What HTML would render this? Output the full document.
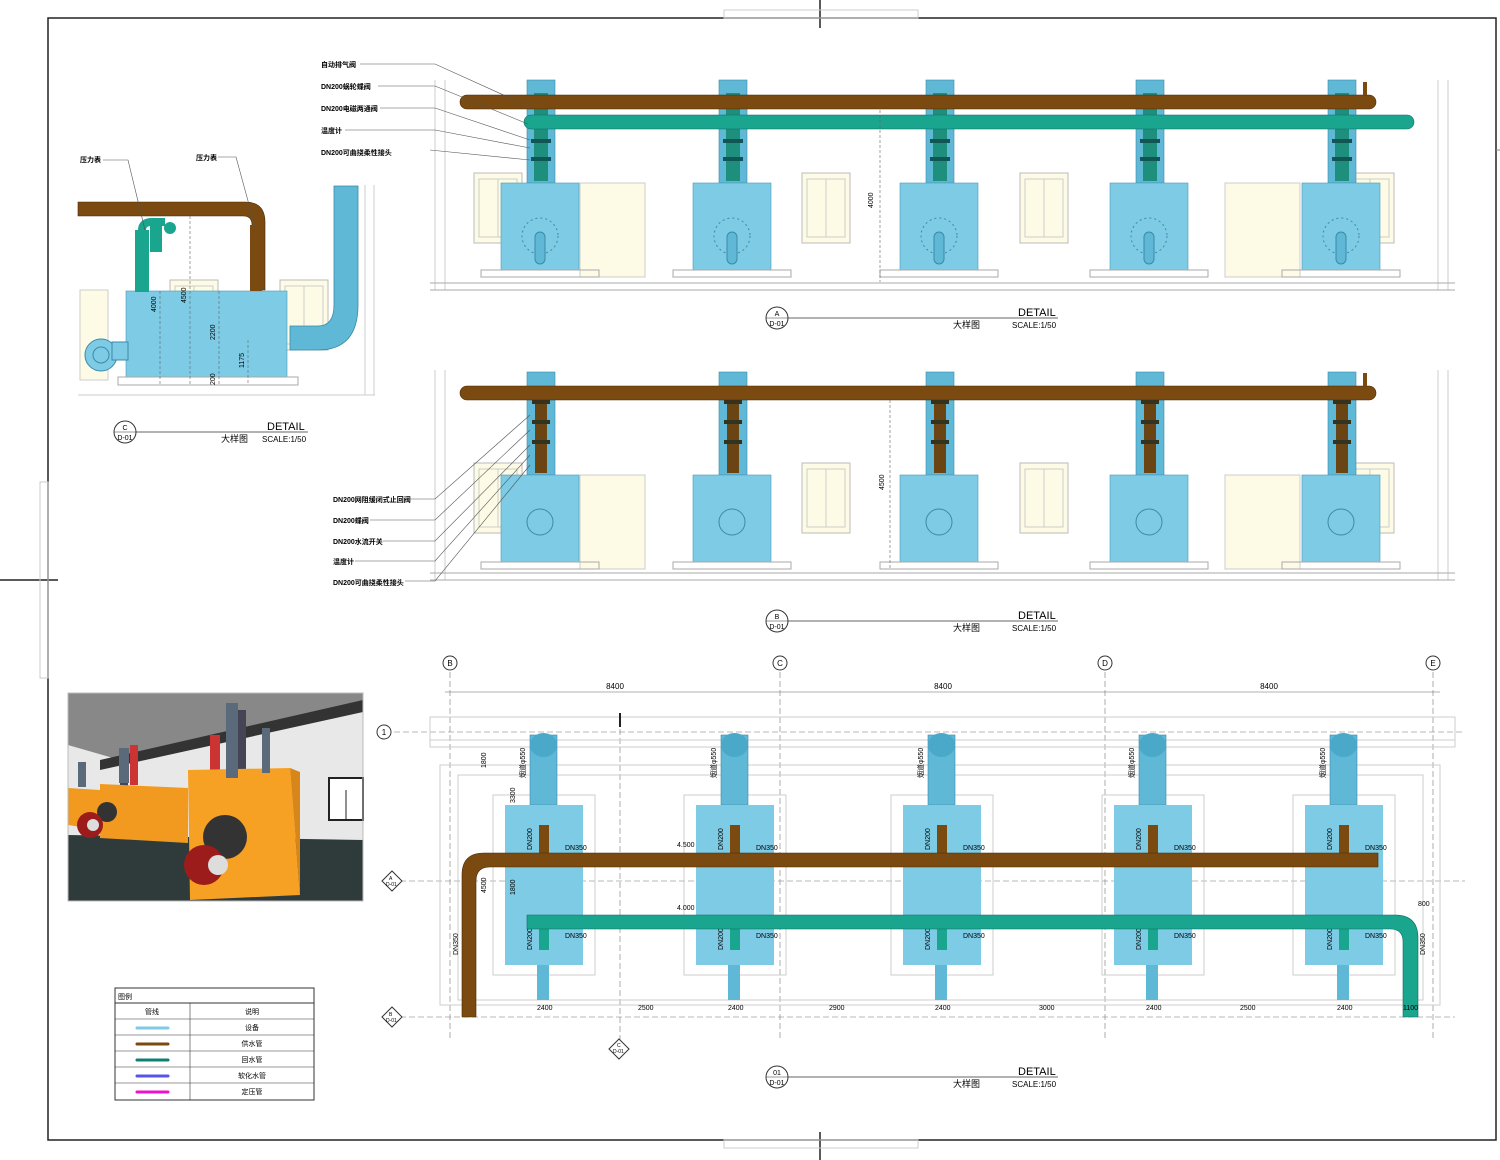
<!DOCTYPE html>
<html><head><meta charset="utf-8"><style>
html,body{margin:0;padding:0;background:#fff;}
svg{display:block;font-family:"Liberation Sans","Noto Sans CJK SC",sans-serif;}
</style></head><body>
<svg width="1500" height="1160" viewBox="0 0 1500 1160" xmlns="http://www.w3.org/2000/svg">
<defs>
<g id="win"><rect x="0" y="0" width="48" height="70" fill="#fdfbe6" stroke="#bbb"/><rect x="5" y="6" width="38" height="58" fill="none" stroke="#ccc"/><line x1="24" y1="6" x2="24" y2="64" stroke="#ccc"/></g>
<g id="bA">
<rect x="26" y="-103" width="28" height="103" fill="#5fb8d6" stroke="#3a8aa8" stroke-width="0.6"/>
<rect x="33" y="-90" width="14" height="88" fill="#1e8f7c"/>
<rect x="30" y="-80" width="20" height="4" fill="#155"/><rect x="30" y="-62" width="20" height="4" fill="#155"/><rect x="30" y="-44" width="20" height="4" fill="#155"/><rect x="30" y="-26" width="20" height="4" fill="#155"/>
<rect x="0" y="0" width="78" height="87" fill="#7ecbe6" stroke="#4a9ab8" stroke-width="0.6"/>
<rect x="-20" y="87" width="118" height="7" fill="none" stroke="#aaa"/>
</g>
<g id="bB">
<rect x="26" y="-103" width="28" height="103" fill="#5fb8d6" stroke="#3a8aa8" stroke-width="0.6"/>
<rect x="34" y="-88" width="12" height="86" fill="#6b4413"/>
<rect x="31" y="-75" width="18" height="4" fill="#332"/><rect x="31" y="-55" width="18" height="4" fill="#332"/><rect x="31" y="-35" width="18" height="4" fill="#332"/>
<rect x="0" y="0" width="78" height="87" fill="#7ecbe6" stroke="#4a9ab8" stroke-width="0.6"/>
<circle cx="39" cy="47" r="13" fill="none" stroke="#3a8aa8"/>
<rect x="-20" y="87" width="118" height="7" fill="none" stroke="#aaa"/>
</g>
<g id="bP">
<rect x="-12" y="-10" width="102" height="180" fill="none" stroke="#ccc"/>
<rect x="25" y="-70" width="27" height="70" fill="#5fb8d6" stroke="#3a8aa8" stroke-width="0.6"/>
<ellipse cx="38.5" cy="-60" rx="13.5" ry="12" fill="#4aa8c8"/>
<rect x="0" y="0" width="78" height="160" fill="#7ecbe6"/>
<rect x="34" y="20" width="10" height="30" fill="#7a4a10"/>
<rect x="34" y="120" width="10" height="25" fill="#1aa58f"/>
<rect x="32" y="160" width="12" height="35" fill="#5fb8d6"/>
<text x="27" y="45" font-size="7" transform="rotate(-90 27 45)">DN200</text>
<text x="27" y="145" font-size="7" transform="rotate(-90 27 145)">DN200</text>
<text x="60" y="45" font-size="7">DN350</text>
<text x="60" y="133" font-size="7">DN350</text>
</g>
</defs>

<!-- frame -->
<rect x="48" y="18" width="1448" height="1122" fill="none" stroke="#222" stroke-width="1.5"/>
<line x1="820" y1="0" x2="820" y2="28" stroke="#222" stroke-width="1.5"/>
<line x1="820" y1="1132" x2="820" y2="1160" stroke="#222" stroke-width="1.5"/>
<line x1="0" y1="580" x2="58" y2="580" stroke="#222" stroke-width="1.5"/>
<rect x="724" y="10" width="194" height="8" fill="none" stroke="#ccc"/>
<rect x="724" y="1140" width="194" height="8" fill="none" stroke="#ccc"/>
<rect x="40" y="482" width="8" height="196" fill="none" stroke="#ccc"/>
<line x1="1496" y1="150" x2="1500" y2="150" stroke="#888"/>

<!-- Elevation A -->
<g stroke="#ccc" fill="none"><line x1="435" y1="80" x2="435" y2="290"/><line x1="445" y1="80" x2="445" y2="290"/><line x1="1438" y1="80" x2="1438" y2="290"/><line x1="1448" y1="80" x2="1448" y2="290"/></g>
<use href="#win" x="474" y="173"/><use href="#win" x="802" y="173"/><use href="#win" x="1020" y="173"/><use href="#win" x="1346" y="173"/>
<rect x="580" y="183" width="65" height="94" fill="#fdfbe6" stroke="#ccc"/><rect x="1225" y="183" width="75" height="94" fill="#fdfbe6" stroke="#ccc"/>
<use href="#bA" x="501" y="183"/><use href="#bA" x="693" y="183"/><use href="#bA" x="900" y="183"/><use href="#bA" x="1110" y="183"/><use href="#bA" x="1302" y="183"/>
<g fill="none" stroke="#3a8aa8"><circle cx="540" cy="236" r="18" stroke-dasharray="2 3"/><circle cx="732" cy="236" r="18" stroke-dasharray="2 3"/><circle cx="939" cy="236" r="18" stroke-dasharray="2 3"/><circle cx="1149" cy="236" r="18" stroke-dasharray="2 3"/><circle cx="1341" cy="236" r="18" stroke-dasharray="2 3"/></g>
<g fill="#5fb8d6" stroke="#3a8aa8"><rect x="535" y="232" width="10" height="32" rx="5"/><rect x="727" y="232" width="10" height="32" rx="5"/><rect x="934" y="232" width="10" height="32" rx="5"/><rect x="1144" y="232" width="10" height="32" rx="5"/><rect x="1336" y="232" width="10" height="32" rx="5"/></g>
<line x1="430" y1="283" x2="1455" y2="283" stroke="#aaa"/><line x1="430" y1="290" x2="1455" y2="290" stroke="#aaa"/>
<rect x="460" y="95" width="916" height="14" rx="7" fill="#7a4a10" stroke="#4a2a05" stroke-width="0.6"/>
<rect x="524" y="115" width="890" height="14" rx="7" fill="#1aa58f" stroke="#0f6f60" stroke-width="0.6"/>
<line x1="880" y1="110" x2="880" y2="282" stroke="#666" stroke-dasharray="3 2" stroke-width="0.6"/>
<text x="873" y="208" font-size="7" transform="rotate(-90 873 208)">4000</text>
<rect x="1363" y="82" width="4" height="13" fill="#7a4a10"/>
<g font-size="7" font-weight="bold"><text x="321" y="67">自动排气阀</text><text x="321" y="89">DN200蜗轮蝶阀</text><text x="321" y="111">DN200电磁两通阀</text><text x="321" y="133">温度计</text><text x="321" y="155">DN200可曲挠柔性接头</text></g>
<g stroke="#555" stroke-width="0.6" fill="none"><polyline points="360,64 435,64 530,107"/><polyline points="378,86 435,86 528,124"/><polyline points="380,108 435,108 530,140"/><polyline points="345,130 435,130 530,148"/><polyline points="430,150 530,160"/></g>
<circle cx="777" cy="318" r="11" fill="#fff" stroke="#333"/><line x1="766" y1="318" x2="788" y2="318" stroke="#333" stroke-width="0.6"/>
<text x="777" y="316" font-size="7" text-anchor="middle">A</text><text x="777" y="326" font-size="7" text-anchor="middle">D-01</text>
<line x1="788" y1="318" x2="1058" y2="318" stroke="#333" stroke-width="0.8"/>
<text x="1018" y="316" font-size="11">DETAIL</text><text x="953" y="328" font-size="9">大样图</text><text x="1012" y="328" font-size="8">SCALE:1/50</text>

<!-- Elevation B -->
<g stroke="#ccc" fill="none"><line x1="435" y1="370" x2="435" y2="580"/><line x1="445" y1="370" x2="445" y2="580"/><line x1="1438" y1="370" x2="1438" y2="580"/><line x1="1448" y1="370" x2="1448" y2="580"/></g>
<use href="#win" x="474" y="463"/><use href="#win" x="802" y="463"/><use href="#win" x="1020" y="463"/><use href="#win" x="1346" y="463"/>
<rect x="580" y="475" width="65" height="94" fill="#fdfbe6" stroke="#ccc"/><rect x="1225" y="475" width="75" height="94" fill="#fdfbe6" stroke="#ccc"/>
<use href="#bB" x="501" y="475"/><use href="#bB" x="693" y="475"/><use href="#bB" x="900" y="475"/><use href="#bB" x="1110" y="475"/><use href="#bB" x="1302" y="475"/>
<line x1="430" y1="573" x2="1455" y2="573" stroke="#aaa"/><line x1="430" y1="580" x2="1455" y2="580" stroke="#aaa"/>
<rect x="460" y="386" width="916" height="14" rx="7" fill="#7a4a10" stroke="#4a2a05" stroke-width="0.6"/>
<rect x="1363" y="373" width="4" height="13" fill="#7a4a10"/>
<line x1="890" y1="400" x2="890" y2="570" stroke="#666" stroke-dasharray="3 2" stroke-width="0.6"/>
<text x="884" y="490" font-size="7" transform="rotate(-90 884 490)">4500</text>
<g font-size="7" font-weight="bold"><text x="333" y="502">DN200网阻缓闭式止回阀</text><text x="333" y="523">DN200蝶阀</text><text x="333" y="544">DN200水流开关</text><text x="333" y="564">温度计</text><text x="333" y="585">DN200可曲挠柔性接头</text></g>
<g stroke="#555" stroke-width="0.6" fill="none"><polyline points="410,499 435,499 530,415"/><polyline points="370,520 435,520 530,430"/><polyline points="383,541 435,541 530,445"/><polyline points="355,561 435,561 530,455"/><polyline points="405,581 435,581 530,465"/></g>
<circle cx="777" cy="621" r="11" fill="#fff" stroke="#333"/><line x1="766" y1="621" x2="788" y2="621" stroke="#333" stroke-width="0.6"/>
<text x="777" y="619" font-size="7" text-anchor="middle">B</text><text x="777" y="629" font-size="7" text-anchor="middle">D-01</text>
<line x1="788" y1="621" x2="1058" y2="621" stroke="#333" stroke-width="0.8"/>
<text x="1018" y="619" font-size="11">DETAIL</text><text x="953" y="631" font-size="9">大样图</text><text x="1012" y="631" font-size="8">SCALE:1/50</text>

<!-- Elevation C -->
<g stroke="#ccc" fill="none"><line x1="78" y1="395" x2="375" y2="395"/><line x1="365" y1="185" x2="365" y2="395"/><line x1="374" y1="185" x2="374" y2="395"/></g>
<use href="#win" x="170" y="280"/><use href="#win" x="280" y="280"/>
<rect x="80" y="290" width="28" height="90" fill="#fdfbe6" stroke="#ccc"/>
<rect x="126" y="291" width="161" height="86" fill="#7ecbe6" stroke="#4a9ab8" stroke-width="0.6"/>
<rect x="118" y="377" width="180" height="8" fill="none" stroke="#aaa"/>
<circle cx="101" cy="355" r="16" fill="#7ecbe6" stroke="#3a8aa8"/><circle cx="101" cy="355" r="8" fill="none" stroke="#3a8aa8"/>
<rect x="112" y="342" width="16" height="18" fill="#7ecbe6" stroke="#3a8aa8"/>
<path d="M334 186 H358 V305 Q358 350 318 350 H290 V326 H318 Q334 326 334 305 Z" fill="#5fb8d6" stroke="#3a8aa8" stroke-width="0.8"/>
<path d="M78 202 H245 Q265 202 265 222 V290 H252 V225 Q252 216 243 216 H78 Z" fill="#7a4a10" stroke="#4a2a05" stroke-width="0.6"/>
<rect x="135" y="230" width="14" height="62" fill="#1aa58f"/><rect x="150" y="222" width="12" height="30" fill="#1aa58f"/>
<path d="M142 240 V230 Q142 222 152 222 H165" stroke="#1aa58f" stroke-width="8" fill="none"/>
<circle cx="170" cy="228" r="6" fill="#1aa58f"/>
<rect x="250" y="225" width="12" height="66" fill="#7a4a10"/>
<g stroke="#555" stroke-width="0.6" fill="none"><polyline points="103,160 128,160 145,230"/><polyline points="218,157 236,157 256,230"/></g>
<g font-size="7" font-weight="bold"><text x="80" y="162">压力表</text><text x="196" y="160">压力表</text></g>
<g stroke="#666" stroke-width="0.6" stroke-dasharray="3 2"><line x1="160" y1="291" x2="160" y2="385"/><line x1="190" y1="216" x2="190" y2="385"/><line x1="219" y1="291" x2="219" y2="385"/><line x1="248" y1="340" x2="248" y2="385"/></g>
<g font-size="7"><text x="156" y="312" transform="rotate(-90 156 312)">4000</text><text x="186" y="303" transform="rotate(-90 186 303)">4500</text><text x="215" y="340" transform="rotate(-90 215 340)">2200</text><text x="244" y="368" transform="rotate(-90 244 368)">1175</text><text x="215" y="385" transform="rotate(-90 215 385)">200</text></g>
<circle cx="125" cy="432" r="11" fill="#fff" stroke="#333"/><line x1="114" y1="432" x2="136" y2="432" stroke="#333" stroke-width="0.6"/>
<text x="125" y="430" font-size="7" text-anchor="middle">C</text><text x="125" y="440" font-size="7" text-anchor="middle">D-01</text>
<line x1="136" y1="432" x2="308" y2="432" stroke="#333" stroke-width="0.8"/>
<text x="267" y="430" font-size="11">DETAIL</text><text x="221" y="442" font-size="9">大样图</text><text x="262" y="442" font-size="8">SCALE:1/50</text>

<!-- 3D render -->
<g>
<rect x="68" y="693" width="295" height="208" fill="#e8e8e8"/>
<polygon points="68,693 363,693 363,705 120,760 68,745" fill="#888"/>
<polygon points="68,835 363,840 363,901 68,901" fill="#2f3b3b"/>
<polygon points="100,760 363,700 363,712 100,770" fill="#333"/>
<rect x="130" y="745" width="8" height="40" fill="#c33"/><rect x="210" y="735" width="10" height="50" fill="#c33"/>
<rect x="232" y="710" width="14" height="70" fill="#445"/><rect x="120" y="755" width="8" height="40" fill="#445"/>
<rect x="329" y="778" width="34" height="42" fill="#fff" stroke="#222" stroke-width="2"/><line x1="346" y1="790" x2="346" y2="820" stroke="#222"/>
<polygon points="68,788 100,790 100,830 68,825" fill="#f29a1f"/>
<polygon points="100,784 188,788 188,843 100,838" fill="#f29a1f"/>
<polygon points="188,770 290,768 300,895 190,900" fill="#f7a124"/>
<polygon points="290,768 300,772 300,895" fill="#d8861a"/>
<circle cx="225" cy="837" r="22" fill="#333"/><circle cx="107" cy="812" r="10" fill="#333"/>
<circle cx="204" cy="865" r="20" fill="#9c1b1b"/><circle cx="218" cy="865" r="10" fill="#ddd"/>
<circle cx="90" cy="825" r="13" fill="#9c1b1b"/><circle cx="93" cy="825" r="6" fill="#ddd"/>
<rect x="226" y="703" width="12" height="75" fill="#5a6a7a"/><rect x="262" y="728" width="8" height="45" fill="#5a6a7a"/>
<rect x="119" y="748" width="10" height="35" fill="#5a6a7a"/><rect x="78" y="762" width="8" height="25" fill="#5a6a7a"/>
<rect x="68" y="693" width="295" height="208" fill="none" stroke="#bbb"/>
</g>

<!-- Legend -->
<g font-size="7">
<rect x="115" y="988" width="199" height="112" fill="#fff" stroke="#333"/>
<line x1="115" y1="1003" x2="314" y2="1003" stroke="#333"/>
<line x1="115" y1="1019" x2="314" y2="1019" stroke="#333" stroke-width="0.6"/><line x1="115" y1="1035" x2="314" y2="1035" stroke="#333" stroke-width="0.6"/><line x1="115" y1="1051" x2="314" y2="1051" stroke="#333" stroke-width="0.6"/><line x1="115" y1="1067" x2="314" y2="1067" stroke="#333" stroke-width="0.6"/><line x1="115" y1="1083" x2="314" y2="1083" stroke="#333" stroke-width="0.6"/>
<line x1="190" y1="1003" x2="190" y2="1100" stroke="#333" stroke-width="0.6"/>
<text x="118" y="999">图例</text><text x="152" y="1014" text-anchor="middle">管线</text><text x="252" y="1014" text-anchor="middle">说明</text>
<g stroke-width="3" stroke-linecap="round"><line x1="137" y1="1028" x2="168" y2="1028" stroke="#7ecbe6"/><line x1="137" y1="1044" x2="168" y2="1044" stroke="#7a4a10"/><line x1="137" y1="1060" x2="168" y2="1060" stroke="#0f8070"/><line x1="137" y1="1076" x2="168" y2="1076" stroke="#5555ee"/><line x1="137" y1="1092" x2="168" y2="1092" stroke="#ee11cc"/></g>
<text x="252" y="1030" text-anchor="middle">设备</text><text x="252" y="1046" text-anchor="middle">供水管</text><text x="252" y="1062" text-anchor="middle">回水管</text><text x="252" y="1078" text-anchor="middle">软化水管</text><text x="252" y="1094" text-anchor="middle">定压管</text>
</g>

<!-- Plan -->
<g font-size="8">
<g fill="#fff" stroke="#333"><circle cx="450" cy="663" r="7"/><circle cx="780" cy="663" r="7"/><circle cx="1105" cy="663" r="7"/><circle cx="1433" cy="663" r="7"/><circle cx="384" cy="732" r="7"/></g>
<text x="450" y="666" text-anchor="middle">B</text><text x="780" y="666" text-anchor="middle">C</text><text x="1105" y="666" text-anchor="middle">D</text><text x="1433" y="666" text-anchor="middle">E</text><text x="384" y="735" text-anchor="middle">1</text>
<g stroke="#777" stroke-width="0.6" stroke-dasharray="6 3"><line x1="450" y1="672" x2="450" y2="1040"/><line x1="780" y1="672" x2="780" y2="1040"/><line x1="1105" y1="672" x2="1105" y2="1040"/><line x1="1433" y1="672" x2="1433" y2="1040"/><line x1="394" y1="732" x2="1465" y2="732"/><line x1="400" y1="881" x2="1465" y2="881"/><line x1="400" y1="1017" x2="1455" y2="1017"/><line x1="620" y1="720" x2="620" y2="1040"/></g>
<line x1="445" y1="692" x2="1440" y2="692" stroke="#666" stroke-width="0.6"/>
<text x="615" y="689" text-anchor="middle">8400</text><text x="943" y="689" text-anchor="middle">8400</text><text x="1269" y="689" text-anchor="middle">8400</text>
<g fill="none" stroke="#ccc"><rect x="430" y="717" width="1025" height="30"/><line x1="430" y1="740" x2="1455" y2="740"/><rect x="440" y="765" width="1000" height="240"/><rect x="458" y="775" width="965" height="225"/></g>
<use href="#bP" x="505" y="805"/><use href="#bP" x="696" y="805"/><use href="#bP" x="903" y="805"/><use href="#bP" x="1114" y="805"/><use href="#bP" x="1305" y="805"/>
<path d="M462 1017 V875 Q462 853 484 853 H1378 V867 H490 Q476 867 476 881 V1017 Z" fill="#7a4a10" stroke="#4a2a05" stroke-width="0.6"/>
<path d="M527 915 H1395 Q1418 915 1418 938 V1017 H1403 V942 Q1403 929 1390 929 H527 Z" fill="#1aa58f" stroke="#0f6f60" stroke-width="0.6"/>
<g font-size="7"><text x="677" y="847">4.500</text><text x="677" y="910">4.000</text><text x="1418" y="906">800</text><text x="638" y="1010">2500</text><text x="829" y="1010">2900</text><text x="1039" y="1010">3000</text><text x="1240" y="1010">2500</text><text x="1403" y="1010">1100</text>
<text x="537" y="1010">2400</text><text x="728" y="1010">2400</text><text x="935" y="1010">2400</text><text x="1146" y="1010">2400</text><text x="1337" y="1010">2400</text>
<text x="458" y="955" transform="rotate(-90 458 955)">DN350</text><text x="1425" y="955" transform="rotate(-90 1425 955)">DN350</text>
<text x="486" y="768" transform="rotate(-90 486 768)">1800</text><text x="515" y="803" transform="rotate(-90 515 803)">3300</text><text x="486" y="893" transform="rotate(-90 486 893)">4500</text><text x="515" y="895" transform="rotate(-90 515 895)">1800</text>
<text x="525" y="778" transform="rotate(-90 525 778)">烟道φ550</text><text x="716" y="778" transform="rotate(-90 716 778)">烟道φ550</text><text x="923" y="778" transform="rotate(-90 923 778)">烟道φ550</text><text x="1134" y="778" transform="rotate(-90 1134 778)">烟道φ550</text><text x="1325" y="778" transform="rotate(-90 1325 778)">烟道φ550</text></g>
<g fill="#fff" stroke="#333"><polygon points="382,881 392,871 402,881 392,891"/><polygon points="382,1017 392,1007 402,1017 392,1027"/><polygon points="609,1049 619,1039 629,1049 619,1059"/></g>
<g font-size="5"><text x="389" y="880">A</text><text x="386" y="886">D-01</text><text x="389" y="1016">B</text><text x="386" y="1022">D-01</text><text x="617" y="1047">C</text><text x="613" y="1053">D-01</text></g>
<line x1="620" y1="713" x2="620" y2="727" stroke="#222" stroke-width="2"/>
</g>
<circle cx="777" cy="1077" r="11" fill="#fff" stroke="#333"/><line x1="766" y1="1077" x2="788" y2="1077" stroke="#333" stroke-width="0.6"/>
<text x="777" y="1075" font-size="7" text-anchor="middle">01</text><text x="777" y="1085" font-size="7" text-anchor="middle">D-01</text>
<line x1="788" y1="1077" x2="1058" y2="1077" stroke="#333" stroke-width="0.8"/>
<text x="1018" y="1075" font-size="11">DETAIL</text><text x="953" y="1087" font-size="9">大样图</text><text x="1012" y="1087" font-size="8">SCALE:1/50</text>
</svg>
</body></html>
